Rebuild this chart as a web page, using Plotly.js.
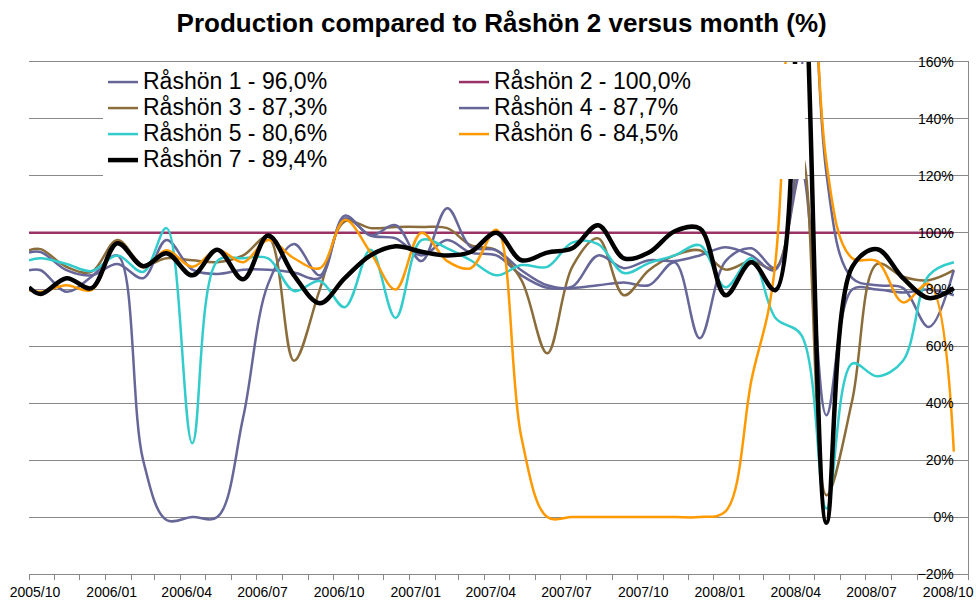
<!DOCTYPE html>
<html><head><meta charset="utf-8">
<script src="https://cdn.plot.ly/plotly-3.0.1.min.js"></script>
<style>body{margin:0;background:#fff}</style>
</head><body><div id="chart" style="width:976px;height:605px"></div>
<script>
const dates = ['2005-10-01','2005-10-15','2005-11-15','2005-12-15',
  '2006-01-15','2006-02-15','2006-03-15','2006-04-15','2006-05-15','2006-06-15','2006-07-15','2006-08-15','2006-09-15','2006-10-15','2006-11-15','2006-12-15',
  '2007-01-15','2007-02-15','2007-03-15','2007-04-15','2007-05-15','2007-06-15','2007-07-15','2007-08-15','2007-09-15','2007-10-15','2007-11-15','2007-12-15',
  '2008-01-15','2008-02-15','2008-03-15','2008-04-15','2008-05-15','2008-06-15','2008-07-15','2008-08-15','2008-09-15','2008-10-15'];

const r1 = [86.8,86.8,79.2,84.5,92,20,-1,0,0,35,82,96,85,105,99,98,92,97.4,93,92,85,80.6,80.5,81.5,82.5,81.5,89.6,62.9,90,94.5,87.5,121.6,35.8,80,80,79,80,78];
const r2 = [100,100,100,100,100,100,100,100,100,100,100,100,100,100,100,100,100,100,100,100,100,100,100,100,100,100,100,100,100,100,100,100,100,100,100,100,100,100];
const r3 = [93.8,94.2,88,86.2,97.4,88.6,91,90.3,89.6,92,98.5,55,80,104,101.6,102,102,101.6,95.6,93.8,83.3,57.6,88,98,78,86.8,92,93.8,87,90,87.5,128,7.7,41,89,84.5,83.3,86.8];
const r4 = [93,93.2,86.8,85,89,84,97.4,87,85.5,87,87,86,84,106,99,102.6,90,108.6,95,93.8,86.8,81.5,81,92,87.5,90.3,90,92,94.9,92,87,1200,121,84,81.5,80.5,66.8,86.8];
const r5 = [90.3,91,89,86.5,92,86.2,101.6,26,90,91,91,79.5,83,73.8,94,70,97.4,94.5,90.3,85,88.6,88,96.5,96,85.8,89.3,92,95.6,80.8,91,70,64,3,54,49.5,55,85,89.6];
const r6 = [79.8,79.2,81.5,79.8,96.7,87.8,93.8,88,94,89.6,97.4,91,87.5,104.5,93,80,100,90,87.5,101,28,0,0,0,0,0,0,0,2,48,90,1200,125,91,90,75.5,82,23];
const r7 = [80.8,78.4,84,80.5,96.3,88.2,92.8,85,94,83.6,99,85,75.2,84,92,95.2,93.3,92,93.2,100,90.3,93,94.5,102.6,91,93,100.5,101.5,78,89.6,79.8,200,-2,88,94.2,84,77,80.5];

const seriesNames = ['Råshön 1 - 96,0%','Råshön 2 - 100,0%','Råshön 3 - 87,3%','Råshön 4 - 87,7%','Råshön 5 - 80,6%','Råshön 6 - 84,5%','Råshön 7 - 89,4%'];
const seriesColors = ['#666699','#993366','#8B6D3B','#666699','#33CCCC','#FF9900','#000000'];
const seriesWidths = [2.5,2.5,2.5,2.5,2.5,2.5,4.5];
const tickDates = ['2005-10-01','2006-01-01','2006-04-01','2006-07-01','2006-10-01','2007-01-01','2007-04-01','2007-07-01','2007-10-01','2008-01-01','2008-04-01','2008-07-01','2008-10-01'];
const tickLabels = ['2005/10','2006/01','2006/04','2006/07','2006/10','2007/01','2007/04','2007/07','2007/10','2008/01','2008/04','2008/07','2008/10'];

const allSeries = [r1,r2,r3,r4,r5,r6,r7];
const traces = allSeries.map((ys,i)=>({
  x: dates, y: ys, type:'scatter', mode:'lines',
  name: '<span style="font-size:23px">' + seriesNames[i] + '</span>',
  line:{color: seriesColors[i], width: seriesWidths[i], shape:'spline', smoothing:1, simplify:false},
  hoverinfo:'skip'
}));

const FONT = 'Liberation Sans, Arial, sans-serif';
const layout = {
  width:976, height:605,
  margin:{l:29, r:8, t:62, b:31, pad:0},
  paper_bgcolor:'#fff', plot_bgcolor:'#fff',
  font:{family:FONT, color:'#000'},
  title:{text:'<b>Production compared to Råshön 2 versus month (%)</b>', font:{family:FONT, size:26, color:'#000'},
    x:0.514, xanchor:'center', xref:'container', y:0.962, yanchor:'middle', yref:'container'},
  showlegend:true,
  legend:{orientation:'h', x:0.0788, xanchor:'left', y:0.996, yanchor:'top', bgcolor:'#fff',
    font:{family:FONT, size:17.7, color:'#000'}, entrywidth:306, entrywidthmode:'pixels', traceorder:'normal', itemwidth:30},
  xaxis:{type:'date', range:['2005-10-01','2008-11-01'], tickvals:tickDates, ticktext:tickLabels,
    ticks:'outside', ticklen:5, tickcolor:'#888', tickfont:{family:FONT, size:14, color:'#000'},
    minor:{dtick:'M1', tick0:'2005-10-01', ticks:'outside', ticklen:5, tickcolor:'#888', showgrid:false},
    showgrid:false, showline:true, mirror:true, linecolor:'#888', linewidth:1, zeroline:false,
    ticklabelshift:6, ticklabeloverflow:'allow', fixedrange:true},
  yaxis:{range:[-20,160], dtick:20, tick0:0, side:'right', ticklabelposition:'inside', ticksuffix:'%',
    ticklabeloverflow:'allow', ticklabelstandoff:14,
    tickfont:{family:FONT, size:14, color:'#000'}, showgrid:true, gridcolor:'#888', gridwidth:1,
    showline:true, linecolor:'#888', linewidth:1, zeroline:false, ticks:'', fixedrange:true}
};
Plotly.newPlot('chart', traces, layout, {displayModeBar:false, staticPlot:true});
</script>
</body></html>
